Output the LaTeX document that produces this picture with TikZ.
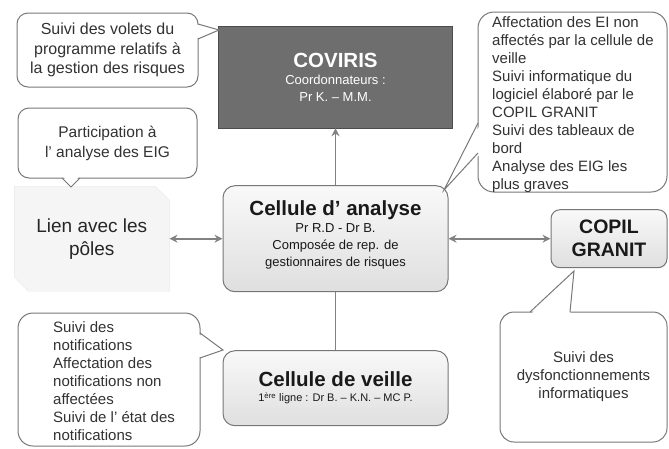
\documentclass[tikz,border=0pt]{standalone}
\usepackage{fontspec}
\setmainfont{Liberation Sans}
\definecolor{grisfonce}{RGB}{110,110,110}
\definecolor{grisbord}{RGB}{118,118,118}
\definecolor{grisfleche}{RGB}{130,130,130}
\definecolor{grisbulle}{RGB}{120,120,120}
\definecolor{gristexte}{RGB}{50,50,50}
\usetikzlibrary{
  arrows.meta,
  positioning,
  shapes.misc,
}
\tikzset{
  >={Stealth[length=8pt,width=8pt]},
  boite/.style={draw=grisbord,line width=1pt,rounded corners=12pt,top color=gray!5,bottom color=gray!25,align=center,text=black!90},
  bulle/.style={draw=grisbulle,line width=1pt,fill=white,rounded corners=11pt,align=center,text=gristexte,font=\fontsize{15}{18}\selectfont},
  bulletexte/.style={align=left,inner sep=0pt,text=gristexte,font=\fontsize{15}{18}\selectfont},
  queue/.style={draw=grisbulle,line width=1pt},
  fleche/.style={draw=grisfleche,line width=1.8pt},
}

\begin{document}
\begin{tikzpicture}[x=1pt,y=-1pt,node distance=0mm and 0mm]
        \useasboundingbox (0,0) rectangle (669,448);

        \node[draw=gray!60!black,fill=grisfonce,minimum width=234,minimum height=102,align=center,text=white,font=\fontsize{13}{17}\selectfont]    (coviris) at (335.5,77) {{\fontsize{20.5}{24}\selectfont\bfseries COVIRIS}\\Coordonnateurs :\\Pr K. – M.M.};
        \node[boite,minimum width=225,minimum height=106,font=\fontsize{13}{17}\selectfont]    (analyse) [below=57pt of coviris] {\mbox{}\\[-10pt]{\fontsize{20.5}{24}\selectfont\bfseries Cellule d’ analyse}\\Pr R.D - Dr B.\\Composée de rep. de\\gestionnaires de risques};
        \node[boite,minimum width=225,minimum height=75,font=\fontsize{11}{13}\selectfont]    (veille) [below=58pt of analyse] {{\fontsize{20.5}{24}\selectfont\bfseries Cellule de veille}\\[2pt]1\textsuperscript{ère} ligne : Dr B. – K.N. – MC P.};
        \node[chamfered rectangle,chamfered rectangle corners={north east,south west},chamfered rectangle xsep=7pt,chamfered rectangle ysep=7pt,draw=gray!18,fill=gray!8,minimum width=155,minimum height=105,align=center,text=black!85,font=\fontsize{19}{23}\selectfont]    (poles) [left=53pt of analyse] {Lien avec les\\pôles};
        \node[boite,rounded corners=9pt,minimum width=116,minimum height=58,font=\fontsize{19.5}{23}\selectfont\bfseries]    (copil) [right=102pt of analyse] {COPIL\\GRANIT};

        \draw[fleche,->] (analyse.north) -- (analyse.north |- coviris.south);
        \draw[fleche,<->] (poles.east) -- (poles.east -| analyse.west);
        \draw[fleche,<->] (analyse.east |- copil.west) -- (copil.west);
        \draw[fleche] (analyse.south) -- (veille.north);

        \node[bulle,minimum width=181,minimum height=74,font=\fontsize{16}{19.5}\selectfont]    (volets) at (107.5,50) {Suivi des volets du\\programme relatifs à\\la gestion des risques};
        \fill[white] (195,24) -- (219,30) -- (195,39) -- cycle;
        \draw[queue] (198,24) -- (219,30) -- (198,39);

        \node[bulle,minimum width=179,minimum height=70,font=\fontsize{15.5}{20}\selectfont]    (participation) at (107.5,143) {Participation à\\l’ analyse des EIG};
        \fill[white] (62,175) -- (71,187) -- (80,175) -- cycle;
        \draw[queue] (62,178) -- (71,187) -- (80,178);

        \node[bulle,rounded corners=16pt,minimum width=189,minimum height=180]    (affect) at (572.5,102) {};
        \fill[white] (481,123) -- (444,190) -- (481,153) -- cycle;
        \draw[queue] (478,123) -- (444,190) -- (478,153);
        \node[bulletexte,anchor=west]    (affecttexte) at (492,105) {Affectation des EI non\\affectés par la cellule de\\veille\\Suivi informatique du\\logiciel élaboré par le\\COPIL GRANIT\\Suivi des tableaux de\\bord\\Analyse des EIG les\\plus graves};

        \node[bulle,rounded corners=14pt,minimum width=167,minimum height=130]    (dysfonct) at (583.5,377) {Suivi des\\dysfonctionnements\\informatiques};
        \fill[white] (530,315) -- (574,271) -- (570,315) -- cycle;
        \draw[queue] (530,312) -- (574,271) -- (570,312);

        \node[bulle,rounded corners=15pt,minimum width=182,minimum height=133]    (notif) at (109,379.5) {};
        \fill[white] (197,333) -- (223,350) -- (197,358) -- cycle;
        \draw[queue] (200,333) -- (223,350) -- (200,358);
        \node[bulletexte,anchor=west]    (notiftexte) at (53,381) {Suivi des\\notifications\\Affectation des\\notifications non\\affectées\\Suivi de l’ état des\\notifications};
    \end{tikzpicture}
\end{document}
